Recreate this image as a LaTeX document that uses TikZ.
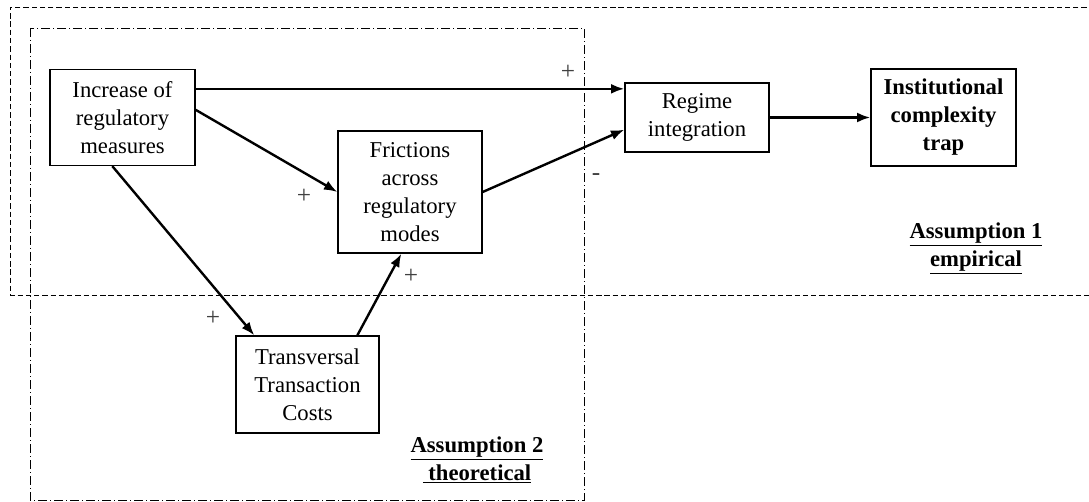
\documentclass[tikz,border=0pt]{standalone}
\usepackage{fontspec}
\setmainfont{Liberation Serif}
\usetikzlibrary{arrows.meta,calc}

\begin{document}
\begin{tikzpicture}
  [x=0.75pt,y=-0.75pt,
   every node/.style={font=\fontsize{17}{21}\selectfont},
   box/.style={draw,line width=1pt,align=center,inner sep=0pt},
   link/.style={line width=1.8pt,-{Latex[length=10pt,width=7.5pt]}},
   sign/.style={font=\fontsize{19}{20}\selectfont,text=black!75}]
\useasboundingbox (0,0) rectangle (1089,502);

% the two assumption frames
\draw[line width=0.6pt,dash pattern=on 4pt off 2.2pt]
  (1095,7) -- (10,7) -- (10,295) -- (1095,295);
\draw[line width=0.6pt,dash pattern=on 7pt off 2pt on 1pt off 2pt]
  (30,28) rectangle (584,500);

\node (inc)[box,minimum width=108.75pt,minimum height=72pt] at (122.5,117.5)
  {Increase of\\regulatory\\measures};
\node (fric)[box,minimum width=108pt,minimum height=91.5pt] at (410,192)
  {Frictions\\across\\regulatory\\modes};
\node (reg)[box,minimum width=108pt,minimum height=51.75pt] at (697,117.5)
  {Regime\\integration};
\node (inst)[box,minimum width=108.75pt,minimum height=72.75pt] at (943.5,117.5)
  {\bfseries Institutional\\\bfseries complexity\\\bfseries trap};
\node (trans)[box,minimum width=107.25pt,minimum height=72.75pt] at (307.5,384.5)
  {Transversal\\Transaction\\Costs};

\coordinate (a1) at ($(inc.north east)+(0,20)$);
\coordinate (a2) at ($(inc.north east)+(0,41)$);
\coordinate (a3) at ($(inc.south west)+(63,0)$);
\coordinate (t1) at ($(trans.north west)+(19,0)$);
\coordinate (t2) at ($(trans.north west)+(122,0)$);
\coordinate (f1) at ($(fric.south west)+(64,0)$);
\coordinate (r1) at ($(reg.south west)+(0,-23)$);

\draw[link] (a1) -- (a1 -| reg.west);
\draw[link] (a2) -- (fric.west);
\draw[link] (a3) -- (t1);
\draw[link] (t2) -- (f1);
\draw[link] (fric.east) -- (r1);
\draw[link] (reg.east) -- (inst.west);

\node (s1)[sign] at (568,72) {+};
\node (s2)[sign] at (304,196) {+};
\node (s3)[sign] at (213,318) {+};
\node (s4)[sign] at (411,276) {+};
\node (s5)[sign] at (596,177) {-};

\node (as1)[align=center] at (976,248)
  {\underline{\bfseries Assumption 1}\\\underline{\bfseries empirical}};
\node (as2)[align=center] at (477,460)
  {\underline{\bfseries Assumption 2}\\\underline{\bfseries\ theoretical}};
\end{tikzpicture}
\end{document}
